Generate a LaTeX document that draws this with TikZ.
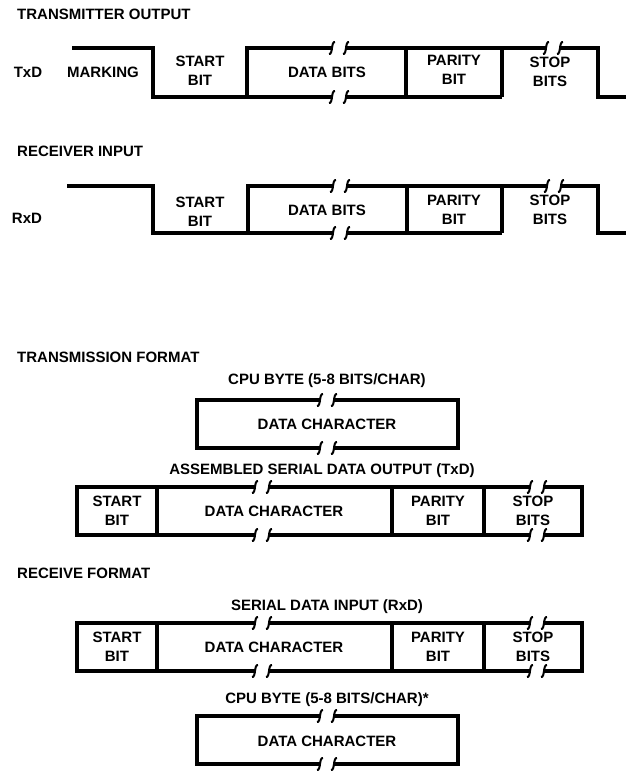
\documentclass[tikz,border=0pt]{standalone}
\usepackage{fontspec}
\setmainfont{Liberation Sans}
\usepackage{tikz}
\usetikzlibrary{positioning}

\begin{document}
\begin{tikzpicture}[x=1pt, y=-1pt]
	\tikzset{wave/.style={line width=3.2pt, line join=miter}}
	\tikzset{lbl/.style={font=\bfseries\fontsize{15}{19}\selectfont, inner sep=0pt, align=center}}
	\tikzset{title/.style={lbl, anchor=west}}
	\tikzset{brk/.pic={\draw[line width=2pt] (-10,6) .. controls (-6,7) and (-8,-7) .. (-4,-6);
			\draw[line width=2pt] (4,6) .. controls (8,7) and (6,-7) .. (10,-6);}}

	\useasboundingbox (0,0) rectangle (626,779);

	% transmitter output
	\node (txtitle) [title] at (17,14) {TRANSMITTER OUTPUT};
	\node (txd) [lbl] at (28,72) {TxD};
	\node (marking) [lbl] at (103,72) {MARKING};
	\node (txstart) [lbl] at (200,71) {START\\BIT};
	\node (txdata) [lbl] at (327,72) {DATA BITS};
	\node (txparity) [lbl] at (454,70) {PARITY\\BIT};
	\node (txstop) [lbl] at (550,72) {STOP\\BITS};

	\draw[wave] (72,48) -| (153,97) -| (247,48) -- (333,48);
	\draw[wave] (345,48) -- (547,48);
	\draw[wave] (559,48) -| (598,97) -- (626,97);
	\draw[wave] (247,97) -- (333,97);
	\draw[wave] (345,97) -- (502,97);
	\draw[wave] (406,48) -- (406,97);
	\draw[wave] (502,48) -- (502,97);
	\pic at (339,48) {brk};
	\pic at (339,97) {brk};
	\pic at (553,48) {brk};

	% receiver input
	\node (rxtitle) [title] at (17,151) {RECEIVER INPUT};
	\node (rxd) [lbl] at (27,218) {RxD};
	\node (rxstart) [lbl] at (200,212) {START\\BIT};
	\node (rxdata) [lbl] at (327,210) {DATA BITS};
	\node (rxparity) [lbl] at (454,210) {PARITY\\BIT};
	\node (rxstop) [lbl] at (550,210) {STOP\\BITS};

	\draw[wave] (67,186) -| (153,233) -| (248,186) -- (334,186);
	\draw[wave] (346,186) -- (548,186);
	\draw[wave] (560,186) -| (598,233) -- (626,233);
	\draw[wave] (248,233) -- (334,233);
	\draw[wave] (346,233) -- (502,233);
	\draw[wave] (407,186) -- (407,233);
	\draw[wave] (502,186) -- (502,233);
	\pic at (340,186) {brk};
	\pic at (340,233) {brk};
	\pic at (554,186) {brk};

	% transmission format
	\node (tftitle) [title] at (17,357) {TRANSMISSION FORMAT};
	\node (tfcpu) [lbl] at (327,381) {CPU BYTE (5-8 BITS/CHAR)};
	\node (tfchar) [lbl] at (327,424) {DATA CHARACTER};
	\draw[wave] (321,400) -| (197,448) -- (321,448);
	\draw[wave] (333,400) -| (458,448) -- (333,448);
	\pic at (327,400) {brk};
	\pic at (327,448) {brk};

	\node (tfout) [lbl] at (322,471) {ASSEMBLED SERIAL DATA OUTPUT (TxD)};
	\node (tfstart) [lbl] at (117,511) {START\\BIT};
	\node (tfdata) [lbl] at (274,511) {DATA CHARACTER};
	\node (tfparity) [lbl] at (438,511) {PARITY\\BIT};
	\node (tfstop) [lbl] at (533,511) {STOP\\BITS};
	\draw[wave] (256,487) -| (77,535) -- (256,535);
	\draw[wave] (268,487) -- (531,487);
	\draw[wave] (268,535) -- (531,535);
	\draw[wave] (543,487) -| (582,535) -- (543,535);
	\foreach \x in {157,392,484}
		\draw[wave] (\x,487) -- (\x,535);
	\pic at (262,487) {brk};
	\pic at (262,535) {brk};
	\pic at (537,487) {brk};
	\pic at (537,535) {brk};

	% receive format
	\node (rftitle) [title] at (17,573) {RECEIVE FORMAT};
	\node (rfin) [lbl] at (327,607) {SERIAL DATA INPUT (RxD)};
	\node (rfstart) [lbl] at (117,647) {START\\BIT};
	\node (rfdata) [lbl] at (274,647) {DATA CHARACTER};
	\node (rfparity) [lbl] at (438,647) {PARITY\\BIT};
	\node (rfstop) [lbl] at (533,647) {STOP\\BITS};
	\draw[wave] (256,623) -| (77,671) -- (256,671);
	\draw[wave] (268,623) -- (531,623);
	\draw[wave] (268,671) -- (531,671);
	\draw[wave] (543,623) -| (582,671) -- (543,671);
	\foreach \x in {157,392,484}
		\draw[wave] (\x,623) -- (\x,671);
	\pic at (262,623) {brk};
	\pic at (262,671) {brk};
	\pic at (537,623) {brk};
	\pic at (537,671) {brk};

	\node (rfcpu) [lbl] at (327,700) {CPU BYTE (5-8 BITS/CHAR)*};
	\node (rfchar) [lbl] at (327,741) {DATA CHARACTER};
	\draw[wave] (321,716) -| (197,764) -- (321,764);
	\draw[wave] (333,716) -| (458,764) -- (333,764);
	\pic at (327,716) {brk};
	\pic at (327,764) {brk};
\end{tikzpicture}
\end{document}
